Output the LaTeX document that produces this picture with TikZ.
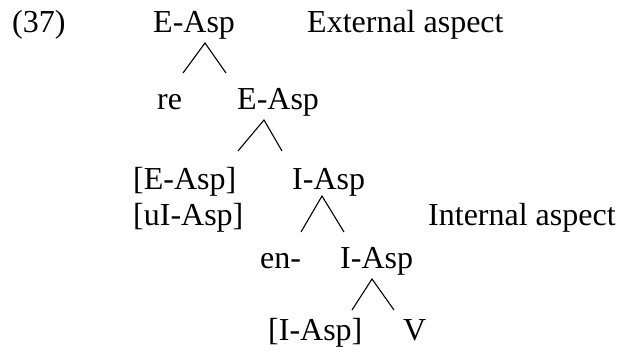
\documentclass[tikz,border=0pt]{standalone}
\usepackage{fontspec}
\setmainfont{Liberation Serif}
\begin{document}
\begin{tikzpicture}[x=1pt,y=1pt,
  lbl/.style={anchor=base west,inner sep=0pt,font=\fontsize{32}{38}\selectfont},
  branch/.style={line width=1.1pt}]
\useasboundingbox (0,0) rectangle (618,354);
% rows (y = 354 - baseline px)
\node[lbl] (num) at (12,321) {(37)};
\node[lbl] (e1) at (153,321) {E-Asp};
\node[lbl] (ext) at (307,321) {External aspect};
\node[lbl] (re) at (157,244) {re};
\node[lbl] (e2) at (237,244) {E-Asp};
\node[lbl] (ef) at (133,165) {[E-Asp]};
\node[lbl] (i1) at (292,165) {I-Asp};
\node[lbl] (uif) at (133,129) {[uI-Asp]};
\node[lbl] (int) at (428,129) {Internal aspect};
\node[lbl] (en) at (260,86) {en-};
\node[lbl] (i2) at (340,86) {I-Asp};
\node[lbl] (if) at (268,14) {[I-Asp]};
\node[lbl] (v) at (403,14) {V};
% branch points
\coordinate (a1) at (205,311); \coordinate (l1) at (183,281); \coordinate (r1) at (226,281);
\coordinate (a2) at (264,234); \coordinate (l2) at (238,203); \coordinate (r2) at (282,203);
\coordinate (a3) at (322,158); \coordinate (l3) at (301,122); \coordinate (r3) at (344,122);
\coordinate (a4) at (372,75); \coordinate (l4) at (352,44); \coordinate (r4) at (394,44);
\draw[branch] (l1) -- (a1) -- (r1);
\draw[branch] (l2) -- (a2) -- (r2);
\draw[branch] (l3) -- (a3) -- (r3);
\draw[branch] (l4) -- (a4) -- (r4);
\end{tikzpicture}
\end{document}
